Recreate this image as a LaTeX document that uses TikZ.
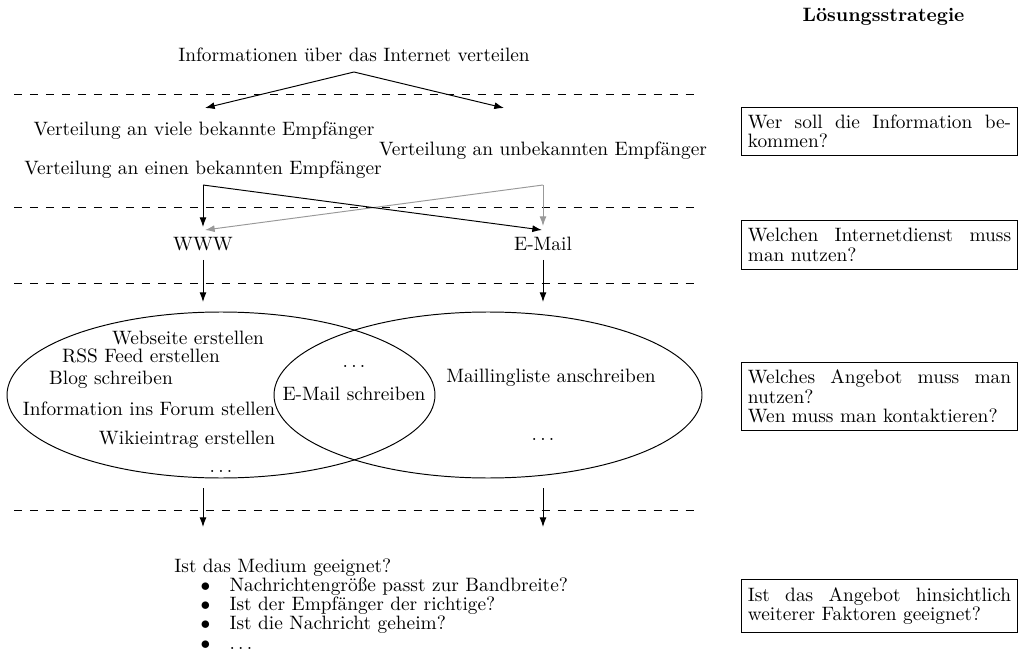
\documentclass[tikz,border=0pt]{standalone}
\usepackage{fontspec}
\usetikzlibrary{arrows.meta,shapes.geometric}

\tikzset{
  txt/.style={font=\fontsize{10}{10}\selectfont, inner sep=0pt,
              text height=6.94pt, text depth=1.94pt},
  multi/.style={font=\fontsize{10}{10}\selectfont, inner sep=0pt, align=left},
  divider/.style={line width=0.5pt, dash pattern=on 4.13pt off 4.13pt},
  arr/.style={line width=0.5pt, -{Latex[length=5pt,width=3.6pt]}},
  garr/.style={arr, draw=black!40, {-{Latex[length=5pt,width=3.6pt,fill=black!40]}}},
  setshape/.style={draw, ellipse, line width=0.5pt, inner sep=0pt,
                   minimum width=221.1pt, minimum height=85.75pt},
  qbox/.style={draw, line width=0.5pt, text width=136pt, align=justify,
               inner xsep=3.5pt, inner ysep=4pt,
               font=\fontsize{10}{10}\selectfont},
}

\begin{document}
\begin{tikzpicture}[x=0.5166pt, y=-0.5166pt]
\useasboundingbox (0,0) rectangle (1019,649);

% level separators
\draw[divider] (14,94)  -- (697,94);
\draw[divider] (14,207) -- (697,207);
\draw[divider] (14,283) -- (697,283);
\draw[divider] (14,510) -- (697,510);

% column heading
\node[txt, font=\fontsize{10}{10}\selectfont\bfseries] (strategy) at (883.5,17) {Lösungsstrategie};

% goal and the kinds of distribution
\node[txt] (info) at (354,57) {Informationen über das Internet verteilen};
\coordinate (split) at (354,72);
\coordinate (toMany) at (205,108);
\coordinate (toUnknown) at (504,108);
\draw[arr] (split) -- (toMany);
\draw[arr] (split) -- (toUnknown);

\node[txt] (many)    at (204,131) {Verteilung an viele bekannte Empfänger};
\node[txt] (unknown) at (543,151) {Verteilung an unbekannten Empfänger};
\node[txt] (one)     at (203,170) {Verteilung an einen bekannten Empfänger};

% choice of the internet service
\coordinate (oneOut) at (203,185);
\coordinate (unkOut) at (543,185);
\coordinate (wwwTop) at (203,227);
\coordinate (wwwSide) at (205,230);
\coordinate (mailTop) at (543,226);
\coordinate (mailSide) at (542,230);
\draw[garr] (unkOut) -- (mailTop);
\draw[garr] (unkOut) -- (wwwSide);
\draw[arr] (oneOut) -- (wwwTop);
\draw[arr] (oneOut) -- (mailSide);

\node[txt] (www)  at (203,246) {WWW};
\node[txt] (mail) at (543,246) {E-Mail};

\coordinate (wwwOut) at (203,260);
\coordinate (mailOut) at (543,260);
\coordinate (webIn) at (203,302);
\coordinate (listIn) at (543,302);
\draw[arr] (wwwOut) -- (webIn);
\draw[arr] (mailOut) -- (listIn);

% offers of both services
\node[setshape] (webset)  at (221,395) {};
\node[setshape] (mailset) at (488,395) {};

\node[txt] (site)  at (188,340) {Webseite erstellen};
\node[txt] (rss)   at (141,358) {RSS Feed erstellen};
\node[txt] (blog)  at (111,380) {Blog schreiben};
\node[txt] (forum) at (149,411) {Information ins Forum stellen};
\node[txt] (wiki)  at (187,440) {Wikieintrag erstellen};
\node[txt] (webmore) at (221,468) {$\ldots$};

\node[txt] (bothmore) at (354,363) {$\ldots$};
\node[txt] (write)    at (354,396) {E-Mail schreiben};

\node[txt] (mlist)    at (551,378) {Maillingliste anschreiben};
\node[txt] (mailmore) at (543,436) {$\ldots$};

\coordinate (webOut) at (203,488);
\coordinate (mailsetOut) at (543,488);
\coordinate (checkL) at (203,527);
\coordinate (checkR) at (543,527);
\draw[arr] (webOut) -- (checkL);
\draw[arr] (mailsetOut) -- (checkR);

% further checks
\node[txt, anchor=west] (medium) at (174,568) {Ist das Medium geeignet?};
\node[multi, anchor=north west] (checks) at (200.2,577) {%
  \makebox[15pt][l]{$\bullet$}Nachrichtengröße passt zur Bandbreite?\\
  \makebox[15pt][l]{$\bullet$}Ist der Empfänger der richtige?\\
  \makebox[15pt][l]{$\bullet$}Ist die Nachricht geheim?\\
  \makebox[15pt][l]{$\bullet$}$\ldots$};

% strategy questions
\node[qbox] (q1) at (879.5,131.5) {Wer soll die Information be-\linebreak kommen?};
\node[qbox] (q2) at (879.5,245) {Welchen Internetdienst muss\linebreak man nutzen?};
\node[qbox] (q3) at (879.5,396.5) {Welches Angebot muss man\linebreak nutzen?\\Wen muss man kontaktieren?};
\node[qbox] (q4) at (879.5,606) {Ist das Angebot hinsichtlich\linebreak weiterer Faktoren geeignet?};
\end{tikzpicture}
\end{document}
